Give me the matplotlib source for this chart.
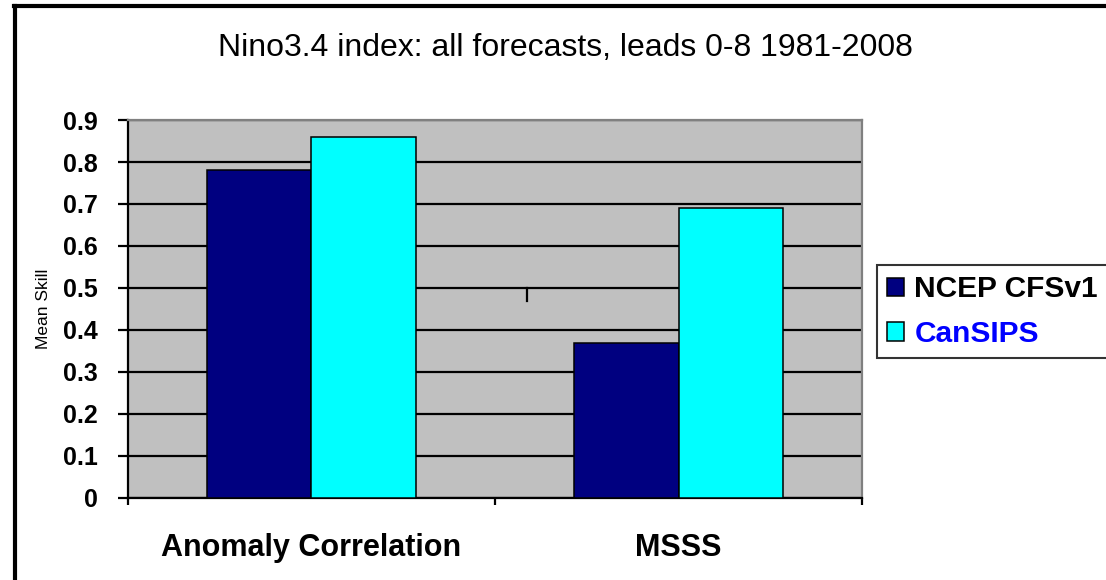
import numpy as np
import matplotlib
matplotlib.use("Agg")
import matplotlib.pyplot as plt
from matplotlib.lines import Line2D
from matplotlib.patches import Patch

categories = ["Anomaly Correlation", "MSSS"]
ncep_cfsv1 = [0.78, 0.37]
cansips = [0.86, 0.69]
series_names = ["NCEP CFSv1", "CanSIPS"]
yticks = [0, 0.1, 0.2, 0.3, 0.4, 0.5, 0.6, 0.7, 0.8, 0.9]

fig = plt.figure(figsize=(11.06, 5.8), dpi=100)
ax = fig.add_axes([0.1157, 0.1414, 0.6637, 0.6517])
ax.set_facecolor("#c0c0c0")

x = np.arange(len(categories))
w = 0.286
ax.bar(x - w / 2, ncep_cfsv1, w, color="#000080", edgecolor="black", linewidth=1.1, zorder=3)
ax.bar(x + w / 2, cansips, w, color="#00ffff", edgecolor="black", linewidth=1.1, zorder=3)

ax.set_xlim(-0.5, 1.5)
ax.set_ylim(0, 0.9)
ax.set_yticks(yticks)
ax.set_yticklabels(["0"] + [f"{v:.1f}" for v in yticks[1:]],
                   fontsize=18, fontweight="bold", family="Liberation Sans")
ax.yaxis.grid(True, color="black", linewidth=1.6, zorder=1)
ax.set_axisbelow(True)
ax.tick_params(axis="y", direction="out", length=7, width=1.6, pad=15)

# category boundaries get ticks, labels sit at the centres
ax.set_xticks([-0.5, 0.5, 1.5])
ax.set_xticklabels(["", "", ""])
ax.set_xticks(x, minor=True)
ax.set_xticklabels(categories, minor=True, fontsize=22, fontweight="bold",
                   family="Liberation Sans")
ax.tick_params(axis="x", which="major", direction="out", length=5, width=1.6)
ax.tick_params(axis="x", which="minor", length=0, pad=25)

for s in ["left", "bottom"]:
    ax.spines[s].set_color("black")
    ax.spines[s].set_linewidth(1.6)
for s in ["top", "right"]:
    ax.spines[s].set_color("#808080")
    ax.spines[s].set_linewidth(1.6)

# small stray mark under the 0.5 line
ax.plot([0.586, 0.586], [0.5, 0.468], color="black", linewidth=1.6, zorder=2)

ax.set_ylabel("Mean Skill", fontsize=12.5, family="Liberation Sans", labelpad=8)

fig.text(0.511, 0.917, "Nino3.4 index: all forecasts, leads 0-8 1981-2008",
         ha="center", va="center", fontsize=23, family="Liberation Sans")

handles = [Patch(facecolor="#000080", edgecolor="black", linewidth=1.1),
           Patch(facecolor="#00ffff", edgecolor="black", linewidth=1.1)]
leg = fig.legend(handles, series_names, loc="upper left",
                 bbox_to_anchor=(877 / 1106, 1 - 265 / 580),
                 prop={"family": "Liberation Sans", "weight": "bold", "size": 21.5},
                 frameon=True, fancybox=False, borderpad=0.35, labelspacing=0.55,
                 handlelength=0.57, handleheight=0.57, handletextpad=0.33,
                 borderaxespad=0)
leg.get_frame().set_edgecolor("black")
leg.get_frame().set_linewidth(1.5)
leg.get_texts()[1].set_color("#0000ff")

# outer chart border (left and top only are visible)
fig.add_artist(Line2D([14.5 / 1106, 14.5 / 1106], [0, 1 - 6 / 580], color="black", linewidth=3))
fig.add_artist(Line2D([14 / 1106, 1], [1 - 6 / 580, 1 - 6 / 580], color="black", linewidth=3))

fig.savefig("out.png", dpi=100)
